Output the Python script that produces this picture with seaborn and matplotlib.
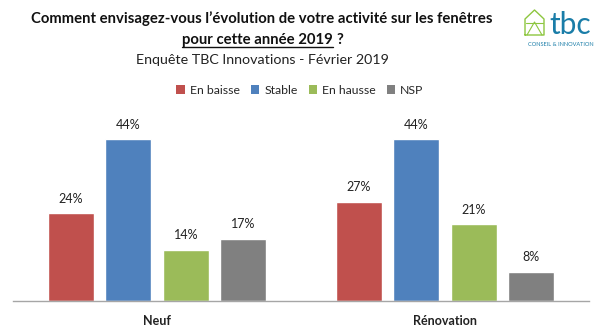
import matplotlib
matplotlib.use("Agg")
import matplotlib.pyplot as plt
import seaborn as sns
import pandas as pd
from matplotlib.patches import Patch
from matplotlib.lines import Line2D

# Survey results (percent of respondents)
categories = ["Neuf", "Rénovation"]
responses = ["En baisse", "Stable", "En hausse", "NSP"]
neuf_values = [24, 44, 14, 17]
renovation_values = [27, 44, 21, 8]
colors = ["#C0504D", "#4F81BD", "#9BBB59", "#808080"]

rows = []
for cat, vals in zip(categories, [neuf_values, renovation_values]):
    for resp, v in zip(responses, vals):
        rows.append({"categorie": cat, "reponse": resp, "valeur": v})
df = pd.DataFrame(rows)

sns.set_theme(style="white")
plt.rcParams["font.family"] = ["Lato", "DejaVu Sans"]

fig = plt.figure(figsize=(6.0, 3.32), dpi=100)
ax = fig.add_axes([13 / 600, 31 / 332, 576 / 600, 191 / 332])

sns.barplot(data=df, x="categorie", y="valeur", hue="reponse",
            order=categories, hue_order=responses, palette=colors,
            width=0.8, gap=0.2, saturation=1, legend=False, ax=ax)

for cont in ax.containers:
    ax.bar_label(cont, labels=[f"{int(round(v))}%" for v in cont.datavalues],
                 padding=6, fontsize=9, color="#222222")

ax.set_ylim(0, 52)
ax.set_xlim(-0.5, 1.5)
ax.set_yticks([])
ax.set_xlabel("")
ax.set_ylabel("")
for s in ["top", "right", "left"]:
    ax.spines[s].set_visible(False)
ax.spines["bottom"].set_color("#A6A6A6")
ax.spines["bottom"].set_linewidth(1.0)
ax.tick_params(axis="x", length=0, pad=10)
for lbl in ax.get_xticklabels():
    lbl.set_fontweight("bold")
    lbl.set_fontsize(9)
    lbl.set_color("#222222")

# Titles
fig.text(262 / 600, 1 - 19 / 332,
         "Comment envisagez-vous l’évolution de votre activité sur les fenêtres",
         ha="center", va="center", fontsize=10.7, fontweight="bold", color="#111111")
t2 = fig.text(257.5 / 600, 1 - 40 / 332, "pour cette année 2019",
              ha="center", va="center", fontsize=10.7, fontweight="bold", color="#111111")
fig.canvas.draw()
r = fig.canvas.get_renderer()
bb = t2.get_window_extent(r).transformed(fig.transFigure.inverted())
fig.text(bb.x1 + 4 / 600, 1 - 40 / 332, "?", ha="left", va="center",
         fontsize=10.7, fontweight="bold", color="#111111")
fig.add_artist(Line2D([bb.x0, bb.x1], [bb.y0 + 0.5 / 332, bb.y0 + 0.5 / 332],
                      transform=fig.transFigure, color="#111111", lw=1.0))
fig.text(262 / 600, 1 - 60 / 332, "Enquête TBC Innovations - Février 2019",
         ha="center", va="center", fontsize=10.3, color="#222222")

# Legend
handles = [Patch(facecolor=c, edgecolor="none", label=l) for c, l in zip(colors, responses)]
fig.legend(handles=handles, loc="center", bbox_to_anchor=(300 / 600, 1 - 90 / 332),
           ncol=4, frameon=False, fontsize=8.8, handlelength=0.7, handleheight=0.7,
           handletextpad=0.4, columnspacing=0.9)

# Logo
logo_green = "#8DC63F"
logo_blue = "#1A7DA8"
house_x = [525, 525, 534.5, 544, 544, 525]
house_y = [35, 19, 10, 19, 35, 35]
fig.add_artist(Line2D([x / 600 for x in house_x], [1 - y / 332 for y in house_y],
                      transform=fig.transFigure, color=logo_green, lw=1.0))
fig.add_artist(Line2D([527 / 600, 534.5 / 600, 542 / 600], [1 - 35 / 332, 1 - 22 / 332, 1 - 35 / 332],
                      transform=fig.transFigure, color=logo_green, lw=0.8))
fig.add_artist(Line2D([526 / 600, 543 / 600], [1 - 23 / 332, 1 - 23 / 332],
                      transform=fig.transFigure, color=logo_green, lw=0.8))
fig.text(570.5 / 600, 1 - 24.5 / 332, "tbc", ha="center", va="center",
         fontsize=21.5, color=logo_blue)
fig.text(561 / 600, 1 - 44 / 332, "CONSEIL & INNOVATION", ha="center", va="center",
         fontsize=4.1, color=logo_blue)

fig.savefig("out.png", dpi=100, facecolor="white")
